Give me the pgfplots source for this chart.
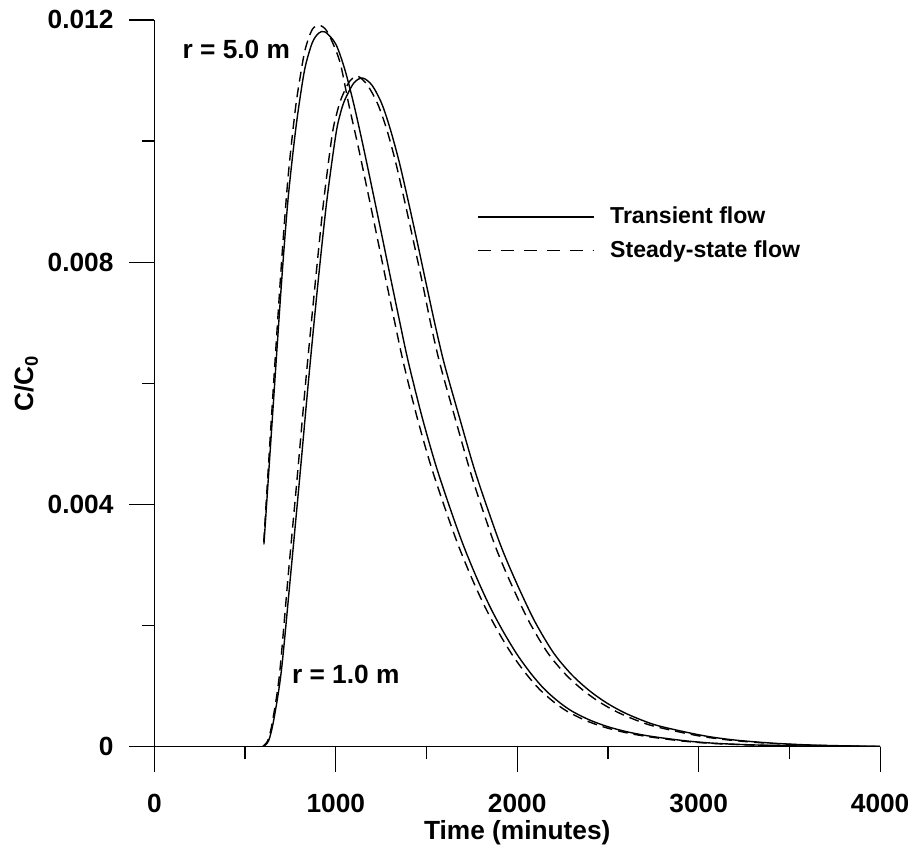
\documentclass[border=0pt]{standalone}
\usepackage{fontspec}
\setmainfont{Liberation Sans}
\usepackage{pgfplots}
\pgfplotsset{compat=1.18}

% transient flow, curve starting at t = 600 with C/C0 > 0
\pgfplotstableread{
t c
604 0.00334
650 0.00540
700 0.00762
737 0.00904
777 0.01014
805 0.01075
832 0.01123
870 0.01162
905 0.01178
942 0.01180
1000 0.01160
1050 0.01118
1100 0.01060
1150 0.00993
1200 0.00922
1250 0.00850
1300 0.00777
1350 0.00705
1400 0.00635
1475 0.00545
1550 0.00466
1625 0.00398
1700 0.00335
1775 0.00280
1850 0.00231
1925 0.00189
2000 0.00152
2075 0.00121
2150 0.00095
2225 0.00075
2300 0.00059
2400 0.00044
2500 0.00033
2600 0.00025
2700 0.00019
2800 0.000145
2950 0.00009
3100 0.000055
3300 0.00003
3600 0.00001
4000 0.000002
}\transA

% steady-state flow, same curve
\pgfplotstableread{
t c
603 0.00338
650 0.00565
700 0.00795
737 0.00940
777 0.01052
805 0.01108
832 0.01152
870 0.01184
909 0.01191
950 0.01182
1000 0.01150
1030 0.01122
1072 0.01060
1122 0.00993
1172 0.00922
1222 0.00850
1272 0.00777
1322 0.00705
1372 0.00635
1447 0.00545
1522 0.00466
1597 0.00398
1672 0.00335
1747 0.00280
1822 0.00231
1897 0.00189
1972 0.00152
2047 0.00121
2122 0.00095
2197 0.00075
2272 0.00059
2372 0.00044
2472 0.00033
2572 0.00025
2672 0.00019
2772 0.000145
2922 0.00009
3072 0.000055
3272 0.00003
3572 0.00001
4000 0.000002
}\steadyA

% transient flow, curve rising from zero
\pgfplotstableread{
t c
600 0
630 0.00010
658 0.00044
700 0.00125
750 0.00280
800 0.00440
850 0.00605
900 0.00760
950 0.00900
1000 0.01010
1025 0.01045
1050 0.01068
1100 0.01096
1148 0.01104
1200 0.01092
1253 0.01062
1300 0.01020
1350 0.00965
1400 0.00900
1450 0.00832
1500 0.00762
1550 0.00693
1600 0.00630
1683 0.00542
1750 0.00472
1800 0.00425
1893 0.00345
1950 0.00302
2021 0.00254
2100 0.00205
2200 0.00155
2300 0.00119
2400 0.00092
2500 0.00071
2606 0.00054
2750 0.00037
2900 0.00026
3050 0.00017
3200 0.00011
3400 0.00006
3600 0.00003
3800 0.000015
4000 0.000005
}\transB

% steady-state flow, same curve
\pgfplotstableread{
t c
595 0
625 0.00010
650 0.00040
690 0.00120
737 0.00280
786 0.00440
835 0.00605
885 0.00760
933 0.00900
980 0.01010
1005 0.01045
1030 0.01070
1075 0.01098
1121 0.01107
1175 0.01092
1230 0.01062
1280 0.01020
1330 0.00965
1380 0.00900
1430 0.00832
1480 0.00762
1527 0.00693
1576 0.00630
1658 0.00542
1724 0.00472
1772 0.00425
1862 0.00345
1918 0.00302
1989 0.00254
2068 0.00205
2168 0.00155
2268 0.00119
2368 0.00092
2468 0.00071
2574 0.00054
2718 0.00037
2868 0.00026
3018 0.00017
3168 0.00011
3368 0.00006
3568 0.00003
3800 0.000013
4000 0.000005
}\steadyB

\begin{document}
\begin{tikzpicture}
\begin{axis}[
    scale only axis,
    width=364.5pt, height=365pt,
    xmin=0, xmax=4000, ymin=0, ymax=0.012,
    axis x line=bottom, axis y line=left,
    axis line style={-, line width=0.6pt},
    tick align=outside,
    major tick length=12.5pt, minor tick length=6.25pt,
    every tick/.style={black, line width=0.6pt},
    xtick={0,1000,2000,3000,4000},
    xticklabels={0,1000,2000,3000,4000},
    minor xtick={500,1500,2500,3500},
    ytick={0,0.004,0.008,0.012},
    yticklabels={0,0.004,0.008,0.012},
    minor ytick={0.002,0.006,0.010},
    scaled y ticks=false,
    xticklabel shift=8pt,
    yticklabel shift=4.5pt,
    tick label style={font=\fontsize{13.2}{15.8}\selectfont\bfseries},
    label style={font=\fontsize{13.2}{15.8}\selectfont\bfseries},
    xlabel={Time (minutes)},
    xlabel style={yshift=3pt},
    ylabel={C/C\textsubscript{0}},
    ylabel style={yshift=-2pt},
    legend style={draw=none, fill=none, inner sep=0pt,
        at={(axis cs:1778,0.008471)}, anchor=west,
        font=\fontsize{11.6}{13.9}\selectfont\bfseries,
        row sep=3pt,
        /tikz/every odd column/.append style={column sep=6pt}},
    legend cell align=left,
    every axis plot/.append style={line width=0.7pt, black, smooth, tension=0.5},
]
\addlegendimage{legend image code/.code={\draw[line width=0.7pt] (0pt,0pt) -- (58pt,0pt);}}
\addlegendentry{Transient flow}
\addlegendimage{legend image code/.code={\draw[line width=0.7pt, dash pattern=on 6.5pt off 5pt] (0pt,0pt) -- (58pt,0pt);}}
\addlegendentry{Steady-state flow}

\addplot[forget plot] table[x=t, y=c] {\transA};
\addplot[forget plot, dash pattern=on 5pt off 3pt] table[x=t, y=c] {\steadyA};
\addplot[forget plot] table[x=t, y=c] {\transB};
\addplot[forget plot, dash pattern=on 5pt off 3pt] table[x=t, y=c] {\steadyB};

\node[anchor=west, inner sep=0pt, font=\fontsize{13.2}{15.8}\selectfont\bfseries] at (axis cs:154,0.011507) {r = 5.0 m};
\node[anchor=west, inner sep=0pt, font=\fontsize{13.2}{15.8}\selectfont\bfseries] at (axis cs:757,0.001189) {r = 1.0 m};
\end{axis}
\path ([shift={(-77.5pt,-47.5pt)}]current axis.south west) rectangle ([shift={(380.5pt,375pt)}]current axis.south west);
\end{tikzpicture}
\end{document}
